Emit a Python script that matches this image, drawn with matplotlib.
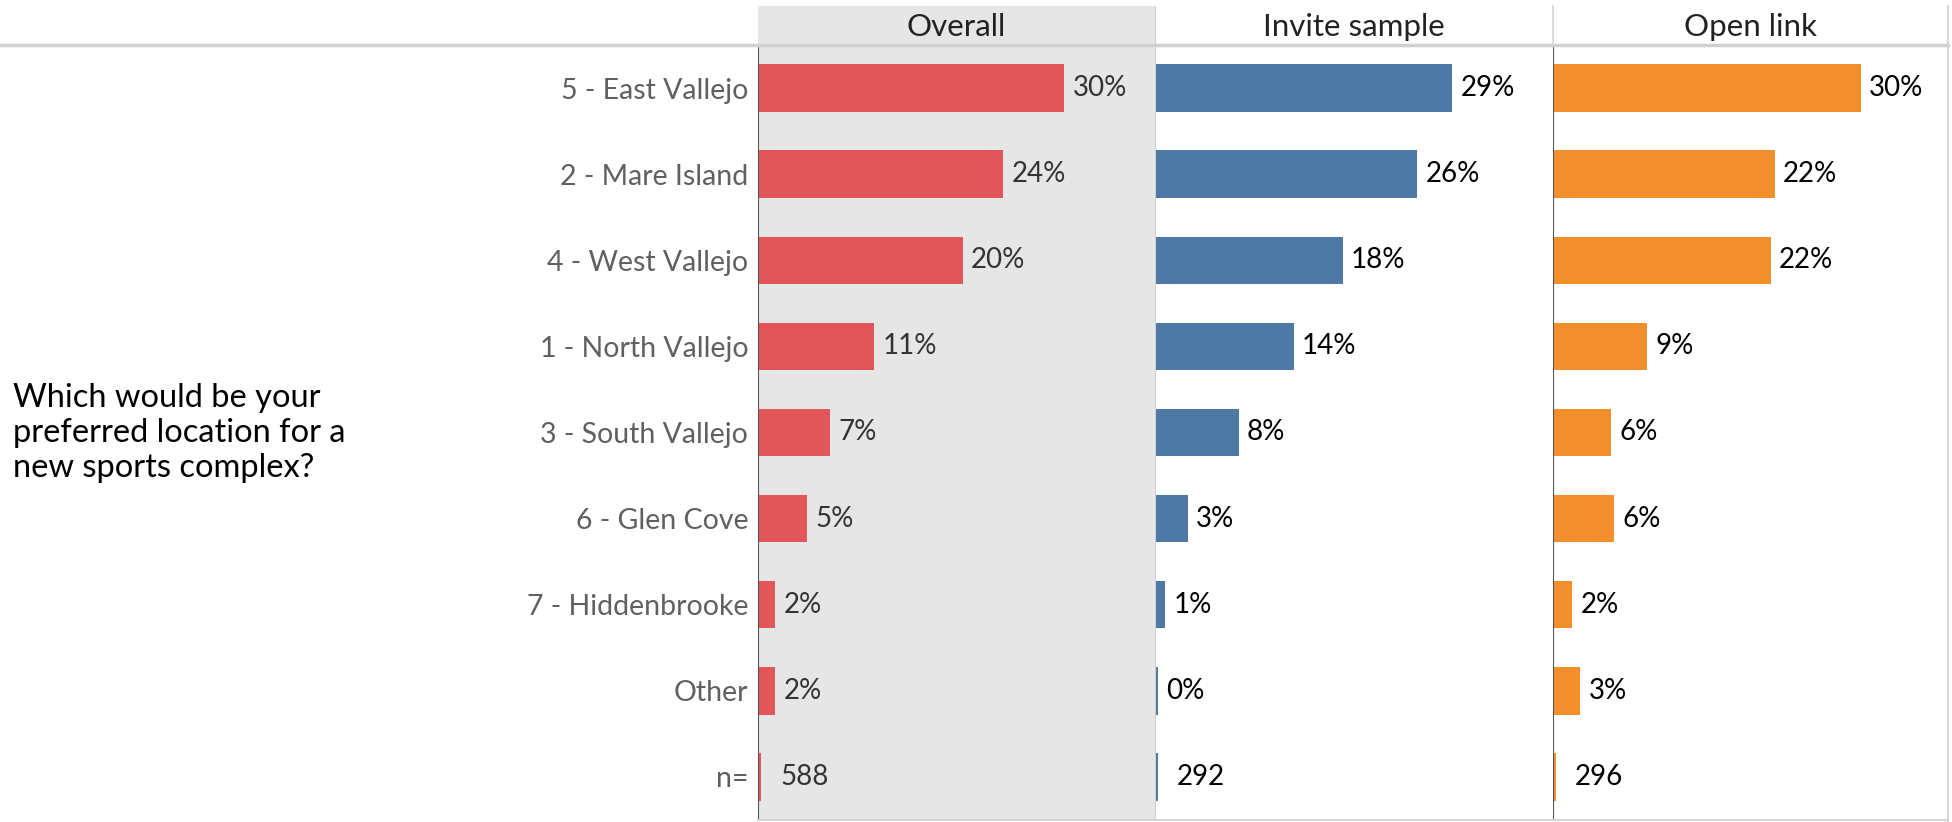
import matplotlib.pyplot as plt
from matplotlib.lines import Line2D

plt.rcParams["font.family"] = ["Lato", "DejaVu Sans"]

# data
categories = ["5 - East Vallejo", "2 - Mare Island", "4 - West Vallejo", "1 - North Vallejo",
              "3 - South Vallejo", "6 - Glen Cove", "7 - Hiddenbrooke", "Other"]
overall = [0.301, 0.241, 0.201, 0.114, 0.071, 0.048, 0.017, 0.017]
invite = [0.291, 0.257, 0.184, 0.136, 0.082, 0.032, 0.010, 0.003]
open_link = [0.304, 0.219, 0.215, 0.093, 0.057, 0.060, 0.019, 0.027]
n_counts = [588, 292, 296]
panels = ["Overall", "Invite sample", "Open link"]
colors = ["#E15759", "#4E79A7", "#F28E2B"]
label_colors = ["#333333", "#000000", "#000000"]
question = "Which would be your\npreferred location for a\nnew sports complex?"

W, H = 1952, 822
fig = plt.figure(figsize=(W / 100, H / 100), dpi=100)

panel_x = [758, 1155, 1553, 1948]
head_top, head_bot, body_bot = 6, 45, 820
xmax = 0.39
fs = 20

series = [overall, invite, open_link]
rows = categories + ["n="]

for k in range(3):
    x0, x1 = panel_x[k], panel_x[k + 1]
    ax = fig.add_axes([x0 / W, 1 - body_bot / H, (x1 - x0) / W, (body_bot - head_bot) / H])
    hx = fig.add_axes([x0 / W, 1 - head_bot / H, (x1 - x0) / W, (head_bot - head_top) / H])
    bg = "#E6E6E6" if k == 0 else "white"
    for a in (ax, hx):
        a.set_facecolor(bg)
        for s in a.spines.values():
            s.set_visible(False)
    hx.set_xticks([])
    hx.set_yticks([])
    hx.text(0.5, 0.45, panels[k], ha="center", va="center", fontsize=22.5, color="#222222",
            transform=hx.transAxes)

    vals = series[k]
    ypos = list(range(len(vals)))
    ax.barh(ypos, vals, height=0.55, color=colors[k])
    for y, v in zip(ypos, vals):
        ax.annotate(f"{round(v * 100)}%", (v, y), xytext=(6, 0), textcoords="offset points",
                    va="center", ha="left", fontsize=fs, color=label_colors[k])
    # n row
    ny = len(vals)
    ax.barh([ny], [0.0025], height=0.55, color=colors[k])
    ax.annotate(str(n_counts[k]), (0, ny), xytext=(16, 0), textcoords="offset points",
                va="center", ha="left", fontsize=fs, color=label_colors[k])

    ax.set_xlim(0, xmax)
    ax.set_ylim(len(rows) - 0.5, -0.5)
    ax.set_xticks([])
    if k == 0:
        ax.set_yticks(range(len(rows)))
        ax.set_yticklabels(rows, fontsize=20.5, color="#606060")
        ax.tick_params(axis="y", length=0, pad=7)
    else:
        ax.set_yticks([])
    zero_col = "#CFCFCF" if k == 1 else "#555555"
    ax.axvline(0, color=zero_col, lw=1.5)
    if k == 1:
        hx.axvline(0, color="#CFCFCF", lw=1.5)

# grid lines around the table
fig.add_artist(Line2D([0, 1948 / W], [1 - head_bot / H] * 2, color="#D0D0D0", lw=2.5))
fig.add_artist(Line2D([1948 / W] * 2, [1 - head_top / H, 0], color="#D6D6D6", lw=1.5))
fig.add_artist(Line2D([758 / W, 1948 / W], [1 - body_bot / H] * 2, color="#D6D6D6", lw=1.5))
fig.add_artist(Line2D([1553 / W] * 2, [1 - head_top / H, 1 - head_bot / H], color="#D6D6D6", lw=1.2))

fig.text(13 / W, 1 - 433 / H, question, ha="left", va="center", fontsize=23.5,
         color="#000000", linespacing=1.2)

fig.savefig("out.png", dpi=100)
